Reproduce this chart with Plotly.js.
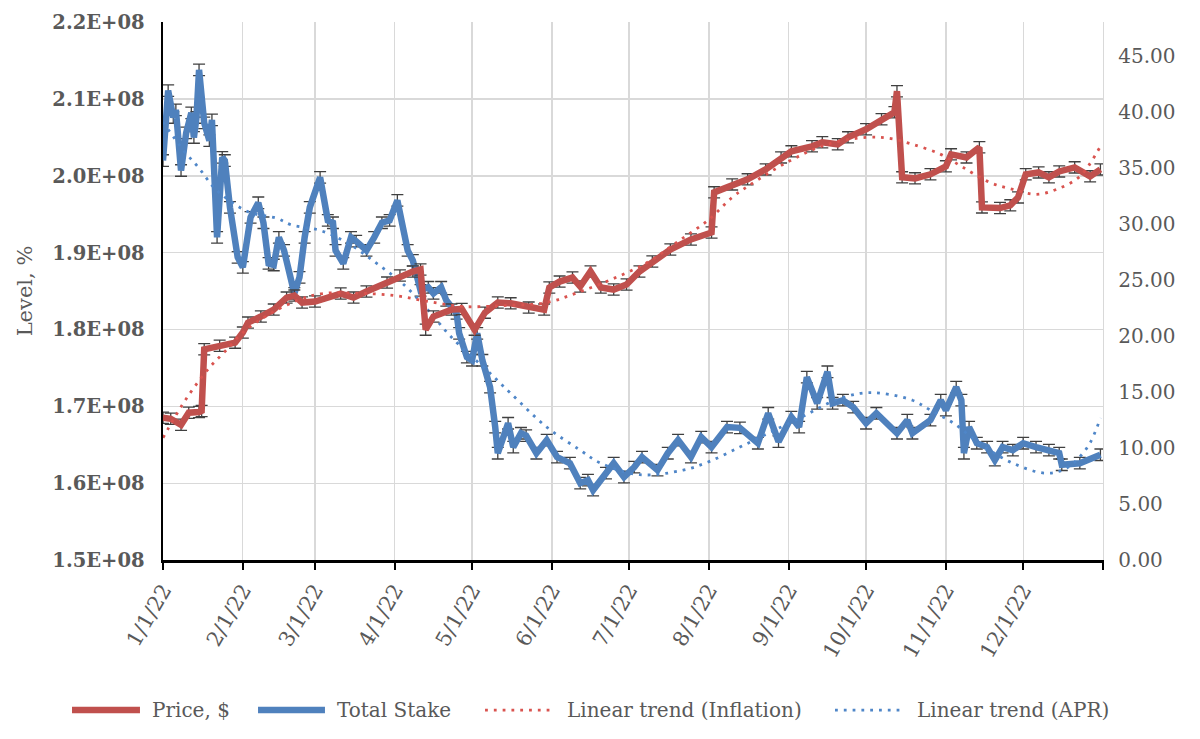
<!DOCTYPE html>
<html>
<head>
<meta charset="utf-8">
<script src="https://cdn.plot.ly/plotly-3.0.1.min.js"></script>
<style>
  html, body { margin: 0; padding: 0; background: #ffffff; }
  #chart { width: 1200px; height: 739px; }
</style>
</head>
<body>
<div id="chart"></div>
<script>
// ---------- DATA ----------
const priceDates = [
  '2022-01-01','2022-01-04','2022-01-08','2022-01-11','2022-01-15','2022-01-16','2022-01-17','2022-01-23','2022-01-29',
  '2022-02-01','2022-02-03','2022-02-08','2022-02-13','2022-02-18','2022-02-21','2022-02-24',
  '2022-03-01','2022-03-11','2022-03-16','2022-03-21','2022-03-29',
  '2022-04-03','2022-04-08','2022-04-11','2022-04-13','2022-04-16','2022-04-23','2022-04-27',
  '2022-05-02','2022-05-06','2022-05-11','2022-05-16','2022-05-23','2022-05-29','2022-05-31',
  '2022-06-04','2022-06-09','2022-06-12','2022-06-16','2022-06-20','2022-06-25','2022-06-30',
  '2022-07-05','2022-07-10','2022-07-17','2022-07-25',
  '2022-08-02','2022-08-03','2022-08-10','2022-08-16','2022-08-23','2022-08-29',
  '2022-09-02','2022-09-10','2022-09-14','2022-09-20','2022-09-24',
  '2022-10-01','2022-10-07','2022-10-12','2022-10-13','2022-10-15','2022-10-20','2022-10-26',
  '2022-11-01','2022-11-03','2022-11-09','2022-11-14','2022-11-15','2022-11-22','2022-11-26','2022-11-29',
  '2022-12-02','2022-12-07','2022-12-11','2022-12-15','2022-12-21','2022-12-27','2022-12-31'
];
const priceValues = [
  12.69,12.60,12.06,13.14,13.20,13.30,18.80,19.12,19.39,
  20.29,21.18,21.72,22.34,23.41,23.59,22.97,
  23.06,23.77,23.41,23.95,24.75,
  25.38,25.74,25.92,20.55,21.72,22.34,22.40,
  20.55,22.07,22.97,22.90,22.52,22.34,24.31,
  24.84,25.20,24.40,25.74,24.31,24.13,24.58,
  25.74,26.63,27.70,28.60,
  29.22,32.80,33.51,33.96,34.85,35.92,
  36.46,36.91,37.27,37.09,37.71,
  38.43,39.32,39.95,41.82,34.14,34.05,34.41,
  35.12,36.19,35.92,36.82,31.46,31.40,31.64,32.35,
  34.41,34.58,34.14,34.67,35.03,34.23,34.85
];

const stakeDates = [
  '2022-01-01','2022-01-03','2022-01-05','2022-01-06','2022-01-08','2022-01-10','2022-01-12','2022-01-13','2022-01-14',
  '2022-01-15','2022-01-17','2022-01-19','2022-01-20','2022-01-22','2022-01-24','2022-01-25','2022-01-27','2022-01-30',
  '2022-02-01','2022-02-04','2022-02-07','2022-02-09','2022-02-11','2022-02-13','2022-02-15','2022-02-17','2022-02-21',
  '2022-02-23','2022-02-25','2022-02-27',
  '2022-03-03','2022-03-06','2022-03-08','2022-03-09','2022-03-12','2022-03-15','2022-03-17','2022-03-21','2022-03-24',
  '2022-03-27','2022-03-30',
  '2022-04-02','2022-04-06','2022-04-08','2022-04-11','2022-04-14','2022-04-16','2022-04-19','2022-04-21','2022-04-25',
  '2022-04-26','2022-04-29',
  '2022-05-01','2022-05-03','2022-05-05','2022-05-08','2022-05-10','2022-05-11','2022-05-15','2022-05-17','2022-05-20',
  '2022-05-22','2022-05-26','2022-05-30',
  '2022-06-03','2022-06-08','2022-06-12','2022-06-15','2022-06-17','2022-06-22','2022-06-25','2022-06-29',
  '2022-07-03','2022-07-06','2022-07-12','2022-07-16','2022-07-20','2022-07-25','2022-07-29',
  '2022-08-02','2022-08-08','2022-08-13','2022-08-20','2022-08-24','2022-08-28',
  '2022-09-02','2022-09-05','2022-09-08','2022-09-12','2022-09-16','2022-09-18','2022-09-22','2022-09-26',
  '2022-10-01','2022-10-05','2022-10-13','2022-10-17','2022-10-19','2022-10-26','2022-10-30',
  '2022-11-01','2022-11-05','2022-11-07','2022-11-08','2022-11-10','2022-11-13','2022-11-17','2022-11-20','2022-11-23',
  '2022-11-27',
  '2022-12-01','2022-12-06','2022-12-11','2022-12-15','2022-12-16','2022-12-23','2022-12-31'
];
const stakeValues = [
  2.020e8,2.111e8,2.076e8,2.086e8,2.007e8,2.056e8,2.082e8,2.050e8,2.076e8,
  2.138e8,2.069e8,2.046e8,2.073e8,1.920e8,2.024e8,2.020e8,1.959e8,1.894e8,
  1.881e8,1.946e8,1.965e8,1.939e8,1.886e8,1.884e8,1.920e8,1.903e8,1.847e8,
  1.868e8,1.920e8,1.959e8,
  1.998e8,1.942e8,1.939e8,1.903e8,1.886e8,1.920e8,1.915e8,1.903e8,1.920e8,
  1.939e8,1.942e8,
  1.968e8,1.903e8,1.890e8,1.851e8,1.855e8,1.847e8,1.855e8,1.838e8,1.821e8,
  1.795e8,1.764e8,
  1.760e8,1.795e8,1.760e8,1.725e8,1.673e8,1.639e8,1.678e8,1.647e8,1.665e8,
  1.662e8,1.639e8,1.656e8,
  1.634e8,1.626e8,1.600e8,1.604e8,1.591e8,1.613e8,1.626e8,1.608e8,
  1.621e8,1.634e8,1.617e8,1.639e8,1.656e8,1.634e8,1.660e8,
  1.647e8,1.673e8,1.672e8,1.652e8,1.691e8,1.654e8,
  1.686e8,1.673e8,1.738e8,1.704e8,1.745e8,1.704e8,1.708e8,1.699e8,
  1.678e8,1.691e8,1.665e8,1.682e8,1.665e8,1.682e8,1.708e8,
  1.695e8,1.725e8,1.708e8,1.639e8,1.673e8,1.652e8,1.647e8,1.630e8,1.647e8,
  1.643e8,
  1.652e8,1.647e8,1.643e8,1.639e8,1.624e8,1.626e8,1.637e8
];

const inflTrendDates = [
  '2022-01-01','2022-01-05','2022-01-09','2022-01-13','2022-01-19','2022-01-25','2022-02-01','2022-02-11','2022-02-23',
  '2022-03-04','2022-03-18','2022-04-01','2022-04-14','2022-04-28','2022-05-13','2022-05-30','2022-06-11','2022-06-24',
  '2022-07-08','2022-07-20','2022-08-01','2022-08-10','2022-08-16','2022-09-01','2022-09-16','2022-10-01','2022-10-10',
  '2022-10-19','2022-10-30','2022-11-07','2022-11-18','2022-11-27','2022-12-06','2022-12-14','2022-12-23','2022-12-31'
];
const inflTrendValues = [
  10.90,12.51,14.03,15.37,17.16,18.59,20.29,21.89,23.24,
  23.77,23.80,23.59,23.06,22.61,22.70,22.97,23.86,25.02,
  26.54,28.42,30.38,32.35,33.33,35.57,37.09,37.71,37.62,
  37.09,36.19,35.12,33.69,33.07,32.62,33.07,34.23,36.91
];

const aprTrendDates = [
  '2022-01-01','2022-01-09','2022-01-15','2022-01-21','2022-01-28','2022-02-04','2022-02-14','2022-02-20','2022-03-03',
  '2022-03-14','2022-03-25','2022-04-04','2022-04-14','2022-04-23','2022-05-08','2022-05-16','2022-05-30','2022-06-12',
  '2022-06-20','2022-07-05','2022-07-22','2022-08-01','2022-08-13','2022-08-24','2022-09-06','2022-09-19','2022-09-29',
  '2022-10-07','2022-10-19','2022-10-26','2022-11-04','2022-11-14','2022-11-27','2022-12-10','2022-12-18','2022-12-26',
  '2022-12-31'
];
const aprTrendValues = [
  2.070e8,2.033e8,2.010e8,1.984e8,1.965e8,1.952e8,1.945e8,1.936e8,1.929e8,
  1.912e8,1.886e8,1.860e8,1.825e8,1.790e8,1.743e8,1.717e8,1.673e8,1.643e8,
  1.626e8,1.611e8,1.617e8,1.628e8,1.647e8,1.665e8,1.686e8,1.708e8,1.717e8,
  1.717e8,1.708e8,1.695e8,1.678e8,1.652e8,1.626e8,1.613e8,1.620e8,1.647e8,
  1.685e8
];

const monthTicks = ['2022-01-01','2022-02-01','2022-03-01','2022-04-01','2022-05-01','2022-06-01',
  '2022-07-01','2022-08-01','2022-09-01','2022-10-01','2022-11-01','2022-12-01','2023-01-01'];
const monthLabels = ['1/1/22','2/1/22','3/1/22','4/1/22','5/1/22','6/1/22',
  '7/1/22','8/1/22','9/1/22','10/1/22','11/1/22','12/1/22',''];
const levelTicks = [1.5e8,1.6e8,1.7e8,1.8e8,1.9e8,2.0e8,2.1e8,2.2e8];
const levelLabels = ['1.5E+08','1.6E+08','1.7E+08','1.8E+08','1.9E+08','2.0E+08','2.1E+08','2.2E+08'];
const rightTicks = [0,5,10,15,20,25,30,35,40,45];

const seriesNames = ['Price, $','Total Stake','Linear trend (Inflation)','Linear trend (APR)'];

// ---------- CHART ----------
const RED = '#C0504D';
const BLUE = '#4F81BD';
const RED_DOT = '#D9534F';
const BLUE_DOT = '#4F86C8';
const FONT = 'DejaVu Serif, Liberation Serif, serif';
const DOTS = '2.8px,6px';

const traces = [
  {
    x: priceDates, y: priceValues, yaxis: 'y2', name: seriesNames[0],
    type: 'scatter', mode: 'lines', showlegend: false,
    line: {color: RED, width: 6.5},
    error_y: {type: 'constant', value: 0.5, color: '#404040', thickness: 1.3, width: 6}
  },
  {
    x: stakeDates, y: stakeValues, yaxis: 'y', name: seriesNames[1],
    type: 'scatter', mode: 'lines', showlegend: false,
    line: {color: BLUE, width: 6.5},
    error_y: {type: 'constant', value: 7.5e5, color: '#404040', thickness: 1.3, width: 6}
  },
  {
    x: inflTrendDates, y: inflTrendValues, yaxis: 'y2', name: seriesNames[2],
    type: 'scatter', mode: 'lines', showlegend: false,
    line: {color: RED_DOT, width: 2.8, dash: DOTS, shape: 'spline', smoothing: 1}
  },
  {
    x: aprTrendDates, y: aprTrendValues, yaxis: 'y', name: seriesNames[3],
    type: 'scatter', mode: 'lines', showlegend: false,
    line: {color: BLUE_DOT, width: 2.8, dash: DOTS, shape: 'spline', smoothing: 1}
  }
];

// Legend drawn below the plot (paper coordinates; plot area is 940 x 538 px)
const legendY = -0.279;
const legendItems = [
  {x0: -0.0968, x1: -0.0245, tx: -0.0138, color: RED, width: 6.5, dash: 'solid'},
  {x0: 0.1011, x1: 0.1723, tx: 0.1830, color: BLUE, width: 6.5, dash: 'solid'},
  {x0: 0.3426, x1: 0.4138, tx: 0.4277, color: RED_DOT, width: 2.6, dash: DOTS},
  {x0: 0.7149, x1: 0.7862, tx: 0.8000, color: BLUE_DOT, width: 2.6, dash: DOTS}
];
const shapes = legendItems.map(it => ({
  type: 'line', xref: 'paper', yref: 'paper',
  x0: it.x0, x1: it.x1, y0: legendY, y1: legendY,
  line: {color: it.color, width: it.width, dash: it.dash}
}));
const annotations = legendItems.map((it, i) => ({
  xref: 'paper', yref: 'paper', x: it.tx, y: legendY,
  xanchor: 'left', yanchor: 'middle', showarrow: false,
  text: seriesNames[i],
  font: {family: FONT, size: 20, color: '#595959'}
}));

const layout = {
  width: 1200, height: 739,
  paper_bgcolor: '#ffffff', plot_bgcolor: '#ffffff',
  margin: {l: 163, r: 97, t: 22, b: 179},
  font: {family: FONT, color: '#595959', size: 19},
  showlegend: false,
  shapes: shapes,
  annotations: annotations,
  xaxis: {
    type: 'date',
    range: ['2022-01-01', '2023-01-01'],
    tickmode: 'array', tickvals: monthTicks, ticktext: monthLabels,
    tickangle: -60,
    tickfont: {family: FONT, size: 21, color: '#595959'},
    showgrid: true, gridcolor: '#D9D9D9', gridwidth: 1.3,
    showline: true, linecolor: '#000000', linewidth: 2.5,
    ticks: 'outside', ticklen: 7, tickwidth: 2.5, tickcolor: '#000000',
    zeroline: false, fixedrange: true
  },
  yaxis: {
    range: [1.5e8, 2.2003e8],
    tickmode: 'array', tickvals: levelTicks, ticktext: levelLabels,
    tickfont: {family: FONT, size: 19.5, color: '#595959', weight: 'bold'},
    showgrid: true, gridcolor: '#D9D9D9', gridwidth: 1.3,
    showline: true, linecolor: '#000000', linewidth: 2.5,
    ticks: '', ticklabelstandoff: 12,
    zeroline: false,
    title: {text: 'Level, %', font: {family: FONT, size: 21, color: '#595959'}, standoff: 14}
  },
  yaxis2: {
    overlaying: 'y', side: 'right',
    range: [0, 48],
    tickmode: 'array', tickvals: rightTicks, ticktext: rightTicks.map(v => v.toFixed(2)),
    tickfont: {family: FONT, size: 20, color: '#595959'},
    showgrid: false, zeroline: false,
    showline: true, linecolor: '#D9D9D9', linewidth: 1.3,
    ticks: '', ticklabelstandoff: 10
  }
};

Plotly.newPlot('chart', traces, layout, {displayModeBar: false, staticPlot: true});
</script>
</body>
</html>
